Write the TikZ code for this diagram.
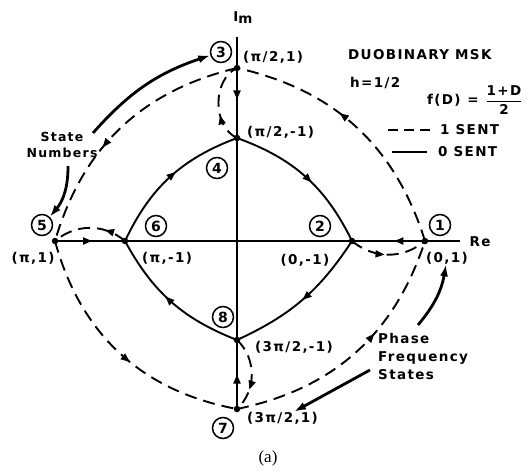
\documentclass[tikz,border=0pt]{standalone}
\usepackage{fontspec}
\setmainfont{DejaVu Sans}
\newfontfamily\labf{DejaVu Sans}[LetterSpace=10]
\newfontfamily\capf{Liberation Serif}
\usetikzlibrary{decorations.markings,arrows.meta}
\begin{document}
\begin{tikzpicture}[x=1pt,y=-1pt,
  dot/.style={circle,fill,inner sep=0pt,minimum size=6.5pt},
  num/.style={circle,draw,line width=1.5pt,inner sep=0pt,minimum size=21pt,font=\labf\bfseries\fontsize{14}{14}\selectfont},
  lbl/.style={inner sep=0pt,font=\labf\bfseries\fontsize{13.5}{14}\selectfont},
  zero/.style={line width=1.9pt},
  one/.style={line width=1.9pt,dash pattern=on 12pt off 7pt},
  axis/.style={line width=1.3pt},
  marrow/.style={postaction={decorate},decoration={markings,mark=at position #1 with {\arrow{Triangle[length=9pt,width=7pt]}}}},
  marrow/.default=0.5,
  note/.style={line width=2.8pt,-{Latex[length=12pt,width=8pt]}}
]
\useasboundingbox (0,0) rectangle (530,476);

% state points
\node[dot] (p1) at (425,241) {};
\node[dot] (p2) at (352,241) {};
\node[dot] (p3) at (237,68) {};
\node[dot] (p4) at (237,138) {};
\node[dot] (p5) at (55,241) {};
\node[dot] (p6) at (125,241) {};
\node[dot] (p7) at (237,409) {};
\node[dot] (p8) at (237,340) {};
\coordinate (axr) at (460,241);
\coordinate (axt) at (237,37);

% axes
\draw[axis] (p5.center) -- (axr);
\draw[axis] (axt) -- (p7.center);

% 0 sent transitions
\draw[zero,marrow=0.45] (p3.center) -- (p4.center);
\draw[zero,marrow=0.5] (p7.center) -- (p8.center);
\draw[zero,marrow=0.53] (p5.center) -- (p6.center);
\draw[zero,marrow=0.42] (p1.center) -- (p2.center);
\draw[zero,marrow=0.55] (p6.center) to[bend left=22] (p4.center);
\draw[zero,marrow=0.55] (p4.center) to[bend left=22] (p2.center);
\draw[zero,marrow=0.5] (p2.center) to[bend left=16] (p8.center);
\draw[zero,marrow=0.55] (p8.center) to[bend left=20] (p6.center);

% 1 sent transitions
\draw[one,marrow=0.58] (p1.center) to[bend right=30] (p3.center);
\draw[one,marrow=0.6] (p3.center) to[bend right=30] (p5.center);
\draw[one,marrow=0.55] (p5.center) to[bend right=32] (p7.center);
\draw[one,marrow=0.6] (p7.center) to[bend right=30] (p1.center);
\draw[one,marrow=0.35] (p4.center) to[bend left=65] (p3.center);
\draw[one,marrow=0.3] (p6.center) to[bend right=40] (p5.center);
\draw[one,marrow=0.45] (p2.center) to[bend right=40] (p1.center);
\draw[one,marrow=0.7] (p8.center) to[bend left=47] (p7.center);

% state numbers
\node[num] (n1) at (440,225) {1};
\node[num] (n2) at (320,226) {2};
\node[num] (n3) at (221,52) {3};
\node[num] (n4) at (217,168) {4};
\node[num] (n5) at (42,225) {5};
\node[num] (n6) at (156,226) {6};
\node[num] (n7) at (223,428) {7};
\node[num] (n8) at (223,317) {8};

% coordinates labels
\node[lbl,anchor=west] (t3) at (243,57) {(π/2,1)};
\node[lbl,anchor=west] (t4) at (247,132) {(π/2,-1)};
\node[lbl] (t5) at (33,258) {(π,1)};
\node[lbl] (t6) at (167,258) {(π,-1)};
\node[lbl] (t2) at (305,260) {(0,-1)};
\node[lbl] (t1) at (447,258) {(0,1)};
\node[lbl,anchor=west] (t8) at (255,347) {(3π/2,-1)};
\node[lbl,anchor=west] (t7) at (247,418) {(3π/2,1)};
\node[lbl] (re) at (480,242) {Re};
\node[lbl] (im) at (243,18) {I\raisebox{-2pt}{m}};

% title and legend
\node[lbl,anchor=west] (title) at (348,55) {DUOBINARY MSK};
\node[lbl,anchor=west] (hh) at (350,83) {h=1/2};
\node[lbl,anchor=west] (fd) at (427,100) {f(D)\enspace=\enspace$\displaystyle\frac{\hbox{1+D}}{\hbox{2}}$};
\coordinate (l1a) at (388,130);
\coordinate (l1b) at (430,130);
\coordinate (l0a) at (392,152);
\coordinate (l0b) at (427,152);
\draw[zero,dash pattern=on 10pt off 6pt] (l1a) -- (l1b);
\draw[zero] (l0a) -- (l0b);
\node[lbl,anchor=west] (s1) at (440,130) {1 SENT};
\node[lbl,anchor=west] (s0) at (438,152) {0 SENT};

% annotations
\node[lbl,align=center,font=\labf\bfseries\fontsize{12.5}{16}\selectfont] (sn) at (62,145) {State\\Numbers};
\node[lbl,align=left,anchor=north west,font=\labf\bfseries\fontsize{13.5}{18}\selectfont] (pf) at (378,333) {Phase\\Frequency\\States};
\coordinate (sna) at (93,133);
\coordinate (snb) at (68,166);
\coordinate (pfa) at (418,325);
\coordinate (pfb) at (370,370);
\draw[note] (sna) to[bend left=15] (n3);
\draw[note] (snb) to[bend left=20] (n5);
\draw[note] (pfa) to[bend right=15] (t1);
\draw[note] (pfb) to (t7);

\node[font=\capf\fontsize{17}{17}\selectfont] (cap) at (268,458) {(a)};
\end{tikzpicture}
\end{document}
